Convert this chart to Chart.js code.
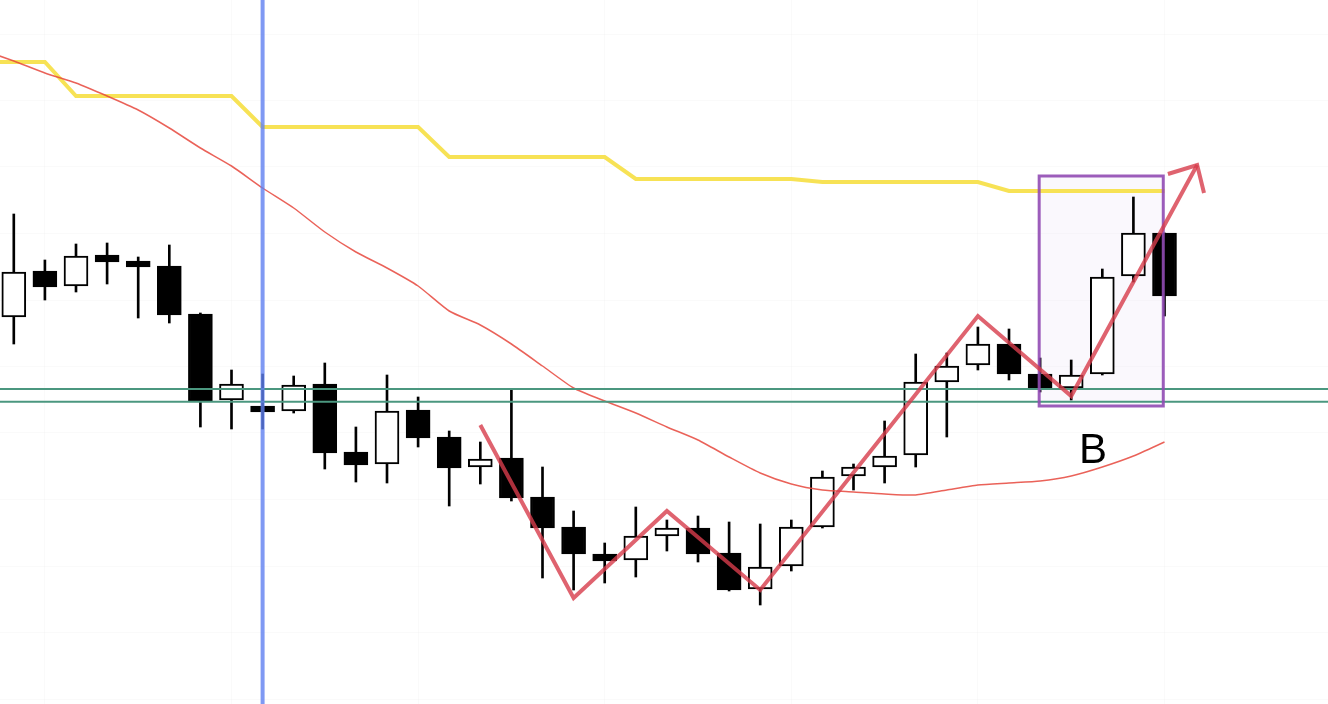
<!DOCTYPE html>
<html><head><meta charset="utf-8">
<script src="https://cdn.jsdelivr.net/npm/chart.js@4/dist/chart.umd.min.js"></script>
<style>html,body{margin:0;padding:0;background:#fff;overflow:hidden}canvas{display:block}</style>
</head><body>
<canvas id="c" width="1328" height="704"></canvas>
<script>
// Candles (index 0..37), values in chart units (height above bottom)
const candleIndex = Array.from({length: 38}, (_, i) => i);
const opens  = [387,433,418,449,443,438,390,304,298,293,320,252,240,294,267,237,246,207,177,150,144,168,176,151,115,138,177,228,237,249,322,339,360,330,316,330,428,471];
const highs  = [490,444,460,461,447,459,391,334,330,328,341,277,329,307,273,262,314,237,193,161,197,184,188,182,180,184,233,240,283,350,351,377,375,346,344,435,507,471];
const lows   = [360,404,412,420,386,381,277,275,275,291,235,222,221,257,198,220,203,126,114,121,127,153,142,113, 99,133,176,214,221,237,267,334,324,312,304,329,422,388];
const closes = [432,417,448,442,437,389,303,320,292,319,251,239,293,266,236,245,206,176,150,143,168,176,150,114,137,177,227,237,248,322,338,360,330,316,329,427,471,408];

// Moving averages, indices -1..37
const maIndex = Array.from({length: 39}, (_, i) => i - 1);
const redMA = [654,643,631,621,608,594,576,556,538,516,496,472,452,436,418,393,379,360,338,316,303,291,277,264,247,231,220,214,212,210,209,214,219,221,223,228,237,248,262];
const yellowMA = [642,642,642,608,608,608,608,608,608,577,577,577,577,577,577,547,547,547,547,547,547,525,525,525,525,525,525,522,522,522,522,522,522,513,513,513,513,513,513];

// Horizontal levels and vertical marker
const levels = [315, 302.3];
const markerIndex = 8;

// Zigzag drawing with arrow
const zigzagX = [15, 18, 21, 24, 31, 34, 38.05];
const zigzagY = [279, 106, 193, 114, 388, 308, 539];
const arrowX = [37.11, 38.05, 38.27];
const arrowY = [530, 539, 511];

// Highlight box and label
const boxX = [32.97, 36.96];
const boxY = [298, 528];
const labelText = 'B';
const labelPos = [34.7, 241];

// Faint grid positions
const gridX = [1, 7, 13, 19, 25, 31, 37];
const gridY = [5, 71.5, 138, 204.5, 271, 337.5, 404, 470.5, 537, 603.5, 670];

const bodyData = candleIndex.map(i => ({x: i, y: [opens[i], closes[i]]}));
const wickData = candleIndex.map(i => ({x: i, y: [lows[i], highs[i]]}));
const bodyColors = candleIndex.map(i => closes[i] >= opens[i] ? '#ffffff' : '#000000');
const toXY = (xs, ys) => xs.map((x, k) => ({x, y: ys[k]}));

const overlayPlugin = {
  id: 'overlay',
  beforeDatasetsDraw(chart) {
    const {ctx, scales: {x, y}} = chart;
    const x0 = x.getPixelForValue(boxX[0]), x1 = x.getPixelForValue(boxX[1]);
    const y0 = y.getPixelForValue(boxY[1]), y1 = y.getPixelForValue(boxY[0]);
    ctx.save();
    ctx.fillStyle = 'rgba(130,90,210,0.045)';
    ctx.fillRect(x0, y0, x1 - x0, y1 - y0);
    ctx.restore();
  },
  beforeDatasetDraw(chart, args) {
    if (chart.data.datasets[args.index].label !== 'zigzag') return;
    const {ctx, scales: {x, y}} = chart;
    const x0 = x.getPixelForValue(boxX[0]), x1 = x.getPixelForValue(boxX[1]);
    const y0 = y.getPixelForValue(boxY[1]), y1 = y.getPixelForValue(boxY[0]);
    ctx.save();
    ctx.strokeStyle = 'rgba(145,75,180,0.9)';
    ctx.lineWidth = 3;
    ctx.strokeRect(x0, y0, x1 - x0, y1 - y0);
    ctx.restore();
  },
  afterDatasetsDraw(chart) {
    const {ctx, scales: {x, y}} = chart;
    ctx.save();
    ctx.fillStyle = '#000';
    ctx.font = '42px "Liberation Sans", Arial, sans-serif';
    ctx.textAlign = 'center';
    ctx.textBaseline = 'alphabetic';
    ctx.fillText(labelText, x.getPixelForValue(labelPos[0]), y.getPixelForValue(labelPos[1]));
    ctx.restore();
  }
};

new Chart(document.getElementById('c'), {
  type: 'bar',
  data: {
    datasets: [
      {type: 'line', label: 'yellow', data: toXY(maIndex, yellowMA), borderColor: 'rgba(246,224,70,0.92)', borderWidth: 4, pointRadius: 0, tension: 0, order: 10},
      {label: 'wicks', data: wickData, backgroundColor: '#000', borderWidth: 0, barThickness: 2, grouped: false, order: 9},
      {label: 'bodies', data: bodyData, backgroundColor: bodyColors, borderColor: '#000', borderWidth: 2, borderSkipped: false, barThickness: 24, grouped: false, order: 8},
      {type: 'line', label: 'redMA', data: toXY(maIndex, redMA), borderColor: 'rgba(230,70,60,0.85)', borderWidth: 1.5, pointRadius: 0, tension: 0.2, order: 7},
      {type: 'line', label: 'level1', data: [{x: -1, y: levels[0]}, {x: 43, y: levels[0]}], borderColor: '#4b977f', borderWidth: 2, pointRadius: 0, order: 6},
      {type: 'line', label: 'level2', data: [{x: -1, y: levels[1]}, {x: 43, y: levels[1]}], borderColor: '#4b977f', borderWidth: 2, pointRadius: 0, order: 6},
      {type: 'line', label: 'marker', data: [{x: markerIndex, y: -20}, {x: markerIndex, y: 730}], borderColor: 'rgba(95,128,240,0.8)', borderWidth: 4, pointRadius: 0, order: 5},
      {type: 'line', label: 'zigzag', data: toXY(zigzagX, zigzagY), borderColor: 'rgba(215,60,75,0.8)', borderWidth: 4, pointRadius: 0, tension: 0, borderJoinStyle: 'miter', order: 3},
      {type: 'line', label: 'arrow', data: toXY(arrowX, arrowY), borderColor: 'rgba(215,60,75,0.8)', borderWidth: 4, pointRadius: 0, tension: 0, borderJoinStyle: 'miter', order: 2}
    ]
  },
  options: {
    responsive: false,
    animation: false,
    devicePixelRatio: 1,
    layout: {padding: 0},
    plugins: {legend: {display: false}, tooltip: {enabled: false}},
    scales: {
      x: {
        type: 'linear', min: -0.4437, max: 42.257, offset: false,
        grid: {color: 'rgba(0,0,0,0.018)', offset: false, drawTicks: false},
        border: {display: false},
        ticks: {display: false},
        afterBuildTicks: s => { s.ticks = gridX.map(v => ({value: v})); }
      },
      y: {
        type: 'linear', min: 0, max: 704,
        grid: {color: 'rgba(0,0,0,0.018)', drawTicks: false},
        border: {display: false},
        ticks: {display: false},
        afterBuildTicks: s => { s.ticks = gridY.map(v => ({value: v})); }
      }
    }
  },
  plugins: [overlayPlugin]
});
</script>
</body></html>
